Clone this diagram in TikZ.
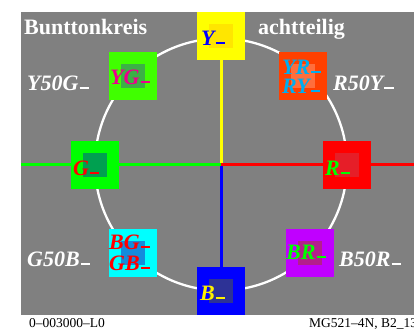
\documentclass[tikz,border=0pt]{standalone}
\usepackage{fontspec}
\setmainfont{Liberation Serif}
\newcommand{\bminus}{\kern1pt\rule[1.5pt]{0.42em}{0.06em}}
\definecolor{bg}{RGB}{128,128,128}
\definecolor{cY}{RGB}{255,255,0}   \definecolor{iY}{RGB}{255,230,0}
\definecolor{cYG}{RGB}{64,255,0}   \definecolor{iYG}{RGB}{60,176,70}
\definecolor{cG}{RGB}{0,255,0}     \definecolor{iG}{RGB}{0,160,80}
\definecolor{cBG}{RGB}{0,255,255}  \definecolor{iBG}{RGB}{20,140,220}
\definecolor{cB}{RGB}{0,0,255}     \definecolor{iB}{RGB}{45,50,150}
\definecolor{cBR}{RGB}{192,0,255}  \definecolor{iBR}{RGB}{180,30,140}
\definecolor{cR}{RGB}{255,0,0}     \definecolor{iR}{RGB}{230,30,40}
\definecolor{cYR}{RGB}{255,64,0}   \definecolor{iYR}{RGB}{255,110,60}
\tikzset{
  hue/.style={minimum size=48pt, inner sep=0pt, fill=#1},
  core/.style={minimum size=24pt, inner sep=0pt, fill=#1},
  lbl/.style={anchor=base west, inner sep=0pt, text=#1,
    font=\fontsize{22}{24}\selectfont\bfseries\itshape},
  title/.style={anchor=base west, inner sep=0pt, text=white,
    font=\fontsize{22}{24}\selectfont\bfseries},
  foot/.style={anchor=base west, inner sep=0pt, font=\fontsize{13.5}{15}\selectfont}
}
\begin{document}
\begin{tikzpicture}[x=1pt, y=-1pt]
    \useasboundingbox (0,0) rectangle (414,332);
    \fill[white] (0,0) rectangle (414,332);
    \fill[bg] (21,12) rectangle (414,315);

    \coordinate (C) at (221,164.5);
    \coordinate (W) at (21,164.5);
    \coordinate (E) at (414,164.5);
    \draw[white, line width=2.3pt] (C) circle (126pt);

    % colour squares
    \node[hue=cY]  (Y)  at (221,36)  {};
    \node[hue=cYG] (YG) at (133,76)  {};
    \node[hue=cG]  (G)  at (95,165)  {};
    \node[hue=cBG] (BG) at (133,253) {};
    \node[hue=cB]  (B)  at (221,291) {};
    \node[hue=cBR] (BR) at (310,253) {};
    \node[hue=cR]  (R)  at (347,165) {};
    \node[hue=cYR] (YR) at (303,76)  {};

    \node[core=iY]  at (Y)  {};
    \node[core=iYG] at (YG) {};
    \node[core=iBG] at (BG) {};
    \node[core=iB]  at (B)  {};
    \node[core=iBR] at (BR) {};
    \node[core=iYR] at (YR) {};

    % axes
    \draw[cY, line width=3pt] (C) -- (Y);
    \draw[cB, line width=3pt] (C) -- (B);
    \draw[cG, line width=3pt] (W) -- (C);
    \draw[cR, line width=3pt] (C) -- (E);
    \node[hue=cG] at (G) {};  \node[core=iG] at (G) {};
    \node[hue=cR] at (R) {};  \node[core=iR] at (R) {};

    % square labels
    \node[lbl=blue]    (tY)  at (201,45)  {Y\bminus};
    \node[lbl=magenta] (tYG) at (110,84)  {YG\bminus};
    \node[lbl=red]     (tG)  at (73,175)  {G\bminus};
    \node[lbl=red]     (tBG) at (109,249) {BG\bminus};
    \node[lbl=red]     (tGB) at (109,270) {GB\bminus};
    \node[lbl=yellow]  (tB)  at (200,300) {B\bminus};
    \node[lbl=cG]      (tBR) at (286,259) {BR\bminus};
    \node[lbl=cG]      (tR)  at (325,175) {R\bminus};
    \node[lbl=cyan]    (tYR) at (282,74)  {YR\bminus};
    \node[lbl=cyan]    (tRY) at (282,93)  {RY\bminus};

    % outer labels
    \node[lbl=white] (lYG) at (27,90)   {Y50G\bminus};
    \node[lbl=white] (lYR) at (333,90)  {R50Y\bminus};
    \node[lbl=white] (lBG) at (27,266)  {G50B\bminus};
    \node[lbl=white] (lBR) at (339,266) {B50R\bminus};

    \node[title] (head1) at (24,34)  {Bunttonkreis};
    \node[title] (head2) at (258,34) {achtteilig};

    \node[foot] (code1) at (29,327)  {0--003000--L0};
    \node[foot] (code2) at (309,327) {MG521--4N, B2\_13};
\end{tikzpicture}
\end{document}
